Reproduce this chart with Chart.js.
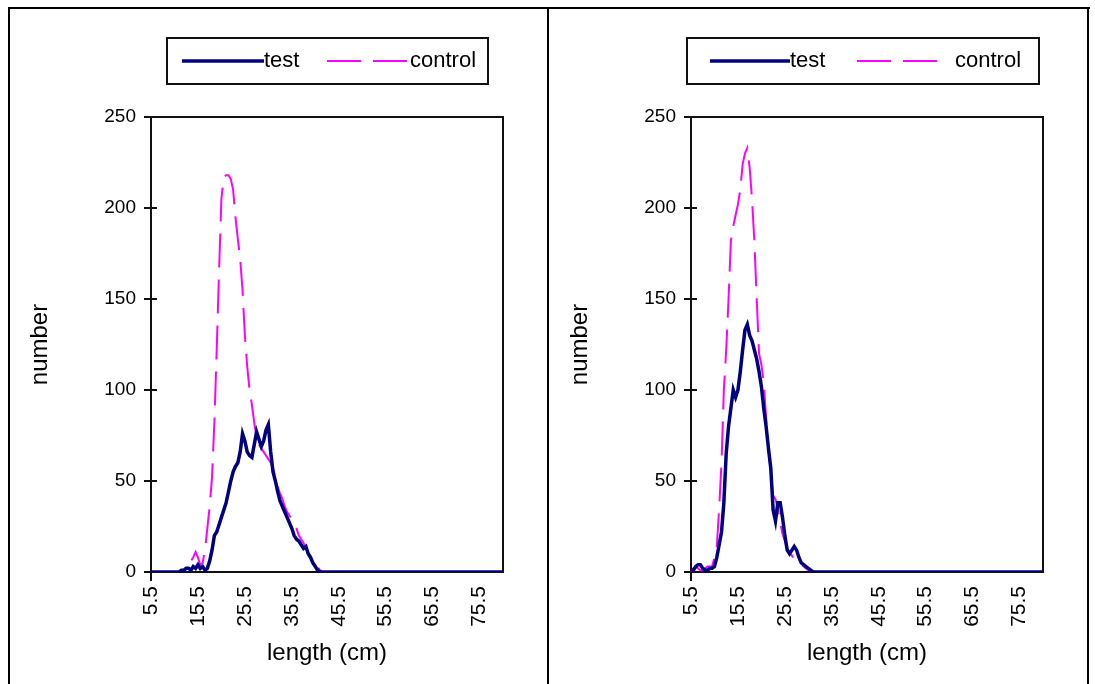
<!DOCTYPE html>
<html>
<head>
<meta charset="utf-8">
<title>length distribution</title>
<script src="https://cdn.jsdelivr.net/npm/chart.js@4.4.1/dist/chart.umd.min.js"></script>
<style>
  body { margin: 0; background: #fff; width: 1095px; height: 684px; overflow: hidden; position: relative; }
  .rule { position: absolute; background: #000; }
  .panel { position: absolute; top: 10px; width: 537px; height: 674px; }
</style>
</head>
<body>
<div class="rule" style="left:8px;top:7px;width:1082px;height:2px"></div>
<div class="rule" style="left:8px;top:7px;width:2px;height:677px"></div>
<div class="rule" style="left:547px;top:7px;width:2px;height:677px"></div>
<div class="rule" style="left:1087px;top:7px;width:2px;height:677px"></div>
<div class="panel" style="left:10px"><canvas id="chartLeft"></canvas></div>
<div class="panel" style="left:550px"><canvas id="chartRight"></canvas></div>

<script>
// length classes (cm), one every 0.5 cm
const lengths = [
  5.5, 6, 6.5, 7, 7.5, 8, 8.5, 9, 9.5, 10,
  10.5, 11, 11.5, 12, 12.5, 13, 13.5, 14, 14.5, 15,
  15.5, 16, 16.5, 17, 17.5, 18, 18.5, 19, 19.5, 20,
  20.5, 21, 21.5, 22, 22.5, 23, 23.5, 24, 24.5, 25,
  25.5, 26, 26.5, 27, 27.5, 28, 28.5, 29, 29.5, 30,
  30.5, 31, 31.5, 32, 32.5, 33, 33.5, 34, 34.5, 35,
  35.5, 36, 36.5, 37, 37.5, 38, 38.5, 39, 39.5, 40,
  40.5, 41, 41.5, 42, 42.5, 43, 43.5, 44, 44.5, 45,
  45.5, 46, 46.5, 47, 47.5, 48, 48.5, 49, 49.5, 50,
  50.5, 51, 51.5, 52, 52.5, 53, 53.5, 54, 54.5, 55,
  55.5, 56, 56.5, 57, 57.5, 58, 58.5, 59, 59.5, 60,
  60.5, 61, 61.5, 62, 62.5, 63, 63.5, 64, 64.5, 65,
  65.5, 66, 66.5, 67, 67.5, 68, 68.5, 69, 69.5, 70,
  70.5, 71, 71.5, 72, 72.5, 73, 73.5, 74, 74.5, 75,
  75.5, 76, 76.5, 77, 77.5, 78, 78.5, 79, 79.5, 80,
  80.5
];

const yTicks = [0, 50, 100, 150, 200, 250];
const labelEvery = 20; // 5.5, 15.5, 25.5 ...

const leftTest = [
  0, 0, 0, 0, 0, 0, 0, 0, 0, 0,
  0, 0, 0, 1, 1, 2, 2, 1, 3, 2,
  4, 2, 3, 1, 2, 6, 12, 20, 22, 26,
  30, 34, 38, 44, 50, 55, 58, 60, 66, 76,
  72, 66, 64, 63, 70, 77, 73, 69, 72, 78,
  81, 66, 55, 50, 44, 39, 36, 33, 30, 27,
  24, 20, 18, 17, 15, 13, 14, 10, 8, 5,
  3, 1, 0, 0, 0, 0, 0, 0, 0, 0,
  0, 0, 0, 0, 0, 0, 0, 0, 0, 0,
  0, 0, 0, 0, 0, 0, 0, 0, 0, 0,
  0, 0, 0, 0, 0, 0, 0, 0, 0, 0,
  0, 0, 0, 0, 0, 0, 0, 0, 0, 0,
  0, 0, 0, 0, 0, 0, 0, 0, 0, 0,
  0, 0, 0, 0, 0, 0, 0, 0, 0, 0,
  0, 0, 0, 0, 0, 0, 0, 0, 0, 0,
  0
];
const leftControl = [
  0, 0, 0, 0, 0, 0, 0, 0, 0, 0,
  0, 0, 0, 0, 1, 2, 4, 6, 8, 11,
  8, 4, 5, 12, 24, 36, 52, 82, 122, 165,
  205, 217, 218, 218, 216, 210, 195, 183, 172, 155,
  130, 113, 100, 92, 82, 74, 70, 68, 66, 64,
  62, 60, 57, 52, 47, 43, 40, 36, 33, 31,
  29, 27, 24, 20, 18, 16, 13, 10, 8, 6,
  5, 3, 1, 0, 0, 0, 0, 0, 0, 0,
  0, 0, 0, 0, 0, 0, 0, 0, 0, 0,
  0, 0, 0, 0, 0, 0, 0, 0, 0, 0,
  0, 0, 0, 0, 0, 0, 0, 0, 0, 0,
  0, 0, 0, 0, 0, 0, 0, 0, 0, 0,
  0, 0, 0, 0, 0, 0, 0, 0, 0, 0,
  0, 0, 0, 0, 0, 0, 0, 0, 0, 0,
  0, 0, 0, 0, 0, 0, 0, 0, 0, 0,
  0
];

const rightTest = [
  0, 1, 3, 4, 4, 2, 1, 1, 2, 2,
  3, 8, 15, 22, 38, 65, 80, 90, 100, 96,
  100, 110, 122, 133, 136, 130, 127, 122, 117, 110,
  102, 90, 80, 68, 57, 34, 28, 38, 38, 30,
  20, 12, 10, 12, 14, 12, 8, 5, 4, 3,
  2, 1, 0, 0, 0, 0, 0, 0, 0, 0,
  0, 0, 0, 0, 0, 0, 0, 0, 0, 0,
  0, 0, 0, 0, 0, 0, 0, 0, 0, 0,
  0, 0, 0, 0, 0, 0, 0, 0, 0, 0,
  0, 0, 0, 0, 0, 0, 0, 0, 0, 0,
  0, 0, 0, 0, 0, 0, 0, 0, 0, 0,
  0, 0, 0, 0, 0, 0, 0, 0, 0, 0,
  0, 0, 0, 0, 0, 0, 0, 0, 0, 0,
  0, 0, 0, 0, 0, 0, 0, 0, 0, 0,
  0, 0, 0, 0, 0, 0, 0, 0, 0, 0,
  0
];
const rightControl = [
  0, 2, 3, 2, 1, 1, 2, 3, 3, 3,
  8, 14, 35, 60, 100, 122, 150, 182, 190, 196,
  202, 210, 224, 230, 233, 222, 205, 182, 150, 120,
  114, 104, 85, 68, 55, 42, 40, 35, 27, 21,
  17, 13, 11, 9, 7, 6, 5, 4, 3, 2,
  1, 1, 0, 0, 0, 0, 0, 0, 0, 0,
  0, 0, 0, 0, 0, 0, 0, 0, 0, 0,
  0, 0, 0, 0, 0, 0, 0, 0, 0, 0,
  0, 0, 0, 0, 0, 0, 0, 0, 0, 0,
  0, 0, 0, 0, 0, 0, 0, 0, 0, 0,
  0, 0, 0, 0, 0, 0, 0, 0, 0, 0,
  0, 0, 0, 0, 0, 0, 0, 0, 0, 0,
  0, 0, 0, 0, 0, 0, 0, 0, 0, 0,
  0, 0, 0, 0, 0, 0, 0, 0, 0, 0,
  0, 0, 0, 0, 0, 0, 0, 0, 0, 0,
  0
];

const FONT = "'Liberation Sans', Arial, sans-serif";
const NAVY = '#000080';
const MAGENTA = '#FF00FF';
const DASH = [34, 12];

// plot frame + cross tick marks, drawn under the lines like Excel does
const frameTicks = {
  id: 'frameTicks',
  beforeDatasetsDraw(chart) {
    const { ctx, chartArea: a, scales } = chart;
    ctx.save();
    ctx.strokeStyle = '#111';
    ctx.lineWidth = 2;
    ctx.strokeRect(a.left, a.top, a.right - a.left, a.bottom - a.top);
    ctx.beginPath();
    scales.y.ticks.forEach((t, i) => {
      const py = Math.round(scales.y.getPixelForTick(i));
      ctx.moveTo(a.left - 7, py);
      ctx.lineTo(a.left + 6, py);
    });
    scales.x.ticks.forEach((t, i) => {
      if (i % labelEvery !== 0) return;
      const px = Math.round(scales.x.getPixelForTick(i));
      ctx.moveTo(px, a.bottom - 5);
      ctx.lineTo(px, a.bottom + 9);
    });
    ctx.stroke();
    ctx.restore();
  }
};

// Excel style legend in a framed box above the plot
const legendBox = {
  id: 'legendBox',
  afterDraw(chart, args, opts) {
    const ctx = chart.ctx;
    const [bx, by, bw, bh] = opts.box;
    const cy = by + bh / 2;
    ctx.save();
    ctx.strokeStyle = '#111';
    ctx.lineWidth = 2;
    ctx.strokeRect(bx, by, bw, bh);
    ctx.font = '22px ' + FONT;
    ctx.fillStyle = '#000';
    ctx.textBaseline = 'middle';
    chart.data.datasets.forEach((ds, i) => {
      const it = opts.items[i];
      ctx.beginPath();
      ctx.strokeStyle = ds.borderColor;
      ctx.lineWidth = ds.borderWidth;
      ctx.setLineDash(ds.borderDash || []);
      ctx.moveTo(bx + it[0], cy);
      ctx.lineTo(bx + it[1], cy);
      ctx.stroke();
      ctx.setLineDash([]);
      ctx.fillText(ds.label, bx + it[2], cy);
    });
    ctx.restore();
  }
};

function makeChart(id, testData, controlData, legendOpts) {
  return new Chart(document.getElementById(id), {
    type: 'line',
    data: {
      labels: lengths,
      datasets: [
        { label: 'test', data: testData, borderColor: NAVY, borderWidth: 3.5, pointRadius: 0, tension: 0 },
        { label: 'control', data: controlData, borderColor: MAGENTA, borderWidth: 2, borderDash: DASH, pointRadius: 0, tension: 0 }
      ]
    },
    options: {
      responsive: true,
      maintainAspectRatio: false,
      animation: false,
      layout: { padding: { top: 107, right: 44, left: 0, bottom: 0 } },
      plugins: {
        legend: { display: false },
        tooltip: { enabled: false },
        legendBox: legendOpts
      },
      scales: {
        x: {
          type: 'category',
          offset: false,
          grid: { display: false, drawTicks: false },
          border: { display: false },
          ticks: {
            autoSkip: false,
            minRotation: 90,
            maxRotation: 90,
            padding: 14,
            color: '#000',
            font: { family: FONT, size: 21 },
            callback: (v, i) => (i % labelEvery === 0 ? lengths[i].toFixed(1) : null)
          },
          title: {
            display: true,
            text: 'length (cm)',
            color: '#000',
            font: { family: FONT, size: 24 },
            padding: { top: 0, bottom: 16 }
          },
          afterFit: s => { s.height = 112; }
        },
        y: {
          min: 0,
          max: 250,
          afterBuildTicks: s => { s.ticks = yTicks.map(v => ({ value: v })); },
          grid: { display: false, drawTicks: false },
          border: { display: false },
          ticks: {
            padding: 15,
            color: '#000',
            font: { family: FONT, size: 19 }
          },
          title: {
            display: true,
            text: 'number',
            color: '#000',
            font: { family: FONT, size: 24 },
            padding: { top: 16, bottom: 0 }
          },
          afterFit: s => { s.width = 141; }
        }
      }
    },
    plugins: [frameTicks, legendBox]
  });
}

makeChart('chartLeft', leftTest, leftControl, {
  box: [157, 28, 321, 46],
  items: [[15, 97, 97], [160, 240, 243]]
});
makeChart('chartRight', rightTest, rightControl, {
  box: [137, 28, 352, 46],
  items: [[23, 103, 103], [170, 250, 268]]
});
</script>
</body>
</html>
